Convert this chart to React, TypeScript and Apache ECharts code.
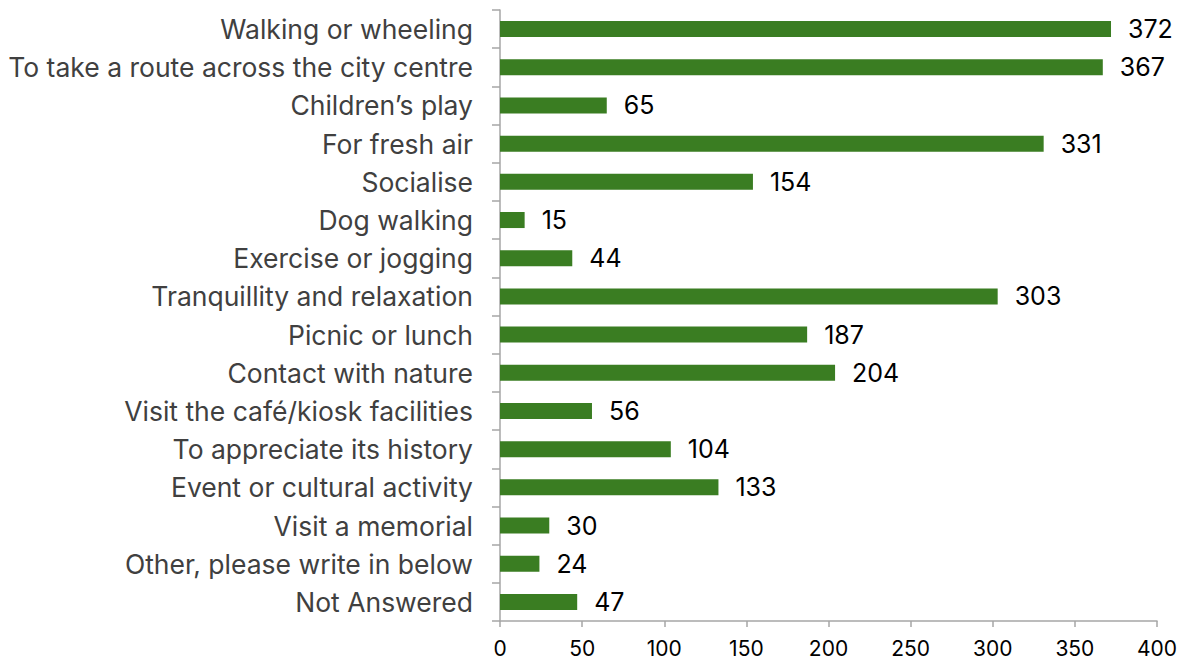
import React, { useEffect, useRef } from "react";
import * as echarts from "echarts";

const categories = [
  "Walking or wheeling",
  "To take a route across the city centre",
  "Children’s play",
  "For fresh air",
  "Socialise",
  "Dog walking",
  "Exercise or jogging",
  "Tranquillity and relaxation",
  "Picnic or lunch",
  "Contact with nature",
  "Visit the café/kiosk facilities",
  "To appreciate its history",
  "Event or cultural activity",
  "Visit a memorial",
  "Other, please write in below",
  "Not Answered",
];
const values = [372, 367, 65, 331, 154, 15, 44, 303, 187, 204, 56, 104, 133, 30, 24, 47];
const xTicks = [0, 50, 100, 150, 200, 250, 300, 350, 400];

export default function App() {
  const ref = useRef<HTMLDivElement>(null);
  useEffect(() => {
    if (!ref.current) return;
    const chart = echarts.init(ref.current, null, { renderer: "svg" });
    chart.setOption({
      animation: false,
      grid: { left: 500, top: 10, right: 24, bottom: 41, containLabel: false },
      xAxis: {
        type: "value",
        min: xTicks[0],
        max: xTicks[xTicks.length - 1],
        interval: 50,
        splitLine: { show: false },
        axisLine: { show: true, lineStyle: { color: "#a6a6a6", width: 1.5 } },
        axisTick: { show: true, length: 6, lineStyle: { color: "#a6a6a6", width: 1.5 } },
        axisLabel: { color: "#000", fontSize: 21, fontFamily: "Inter", margin: 17 },
      },
      yAxis: {
        type: "category",
        data: categories,
        inverse: true,
        axisLine: { show: true, lineStyle: { color: "#a6a6a6", width: 1.5 } },
        axisTick: { show: true, length: 8, lineStyle: { color: "#a6a6a6", width: 1.5 } },
        axisLabel: { color: "#404040", fontSize: 26.5, fontFamily: "Inter", margin: 27 },
      },
      series: [
        {
          type: "bar",
          data: values,
          barWidth: "42%",
          itemStyle: { color: "#3a7d22" },
          label: {
            show: true,
            position: "right",
            distance: 17,
            color: "#000",
            fontSize: 25,
            fontFamily: "Inter",
          },
        },
      ],
    });
    return () => chart.dispose();
  }, []);
  return <div ref={ref} style={{ width: 1181, height: 662, position: "absolute", left: 0, top: 0 }} />;
}
